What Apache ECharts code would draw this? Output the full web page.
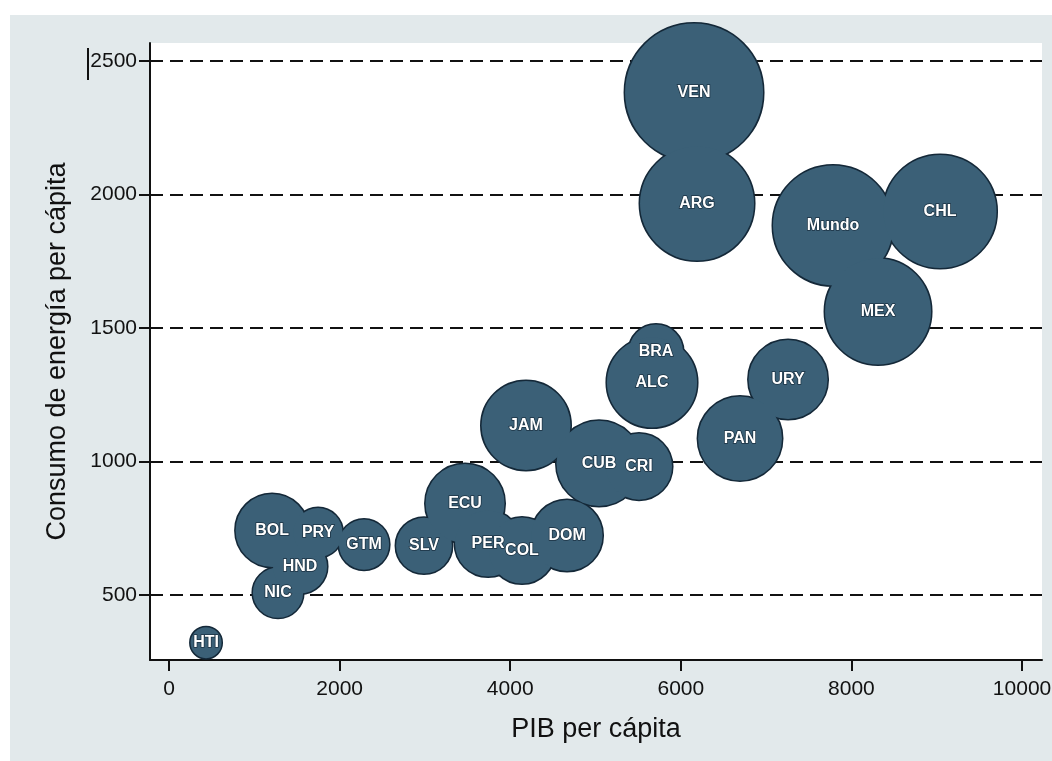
<!DOCTYPE html>
<html>
<head>
<meta charset="utf-8">
<script src="https://cdn.jsdelivr.net/npm/echarts@6/dist/echarts.min.js"></script>
<style>
html,body{margin:0;padding:0;background:#ffffff;}
#chart{width:1052px;height:761px;}
</style>
</head>
<body>
<div id="chart"></div>
<script>
const paises = ['VEN','ARG','Mundo','CHL','MEX','BRA','ALC','JAM','CUB','CRI','URY','PAN','HTI','NIC','HND','BOL','PRY','GTM','SLV','ECU','PER','COL','DOM'];
const pibPerCapita = [6155,6190,7784,9039,8312,5709,5662,4185,5041,5510,7257,6694,434,1278,1536,1208,1747,2286,2989,3470,3740,4138,4666];
const consumoEnergia = [2382,1966,1884,1936,1562,1412,1296,1135,993,981,1307,1086,322,509,607,742,734,689,685,843,693,667,723];
const peso = [47.6,32.5,36.0,31.9,28.1,7.3,20.3,19.8,18.1,10.9,15.6,17.6,2.4,6.3,7.3,13.3,6.0,6.3,7.8,15.6,10.9,10.9,12.6];
const xTicks = [0,2000,4000,6000,8000,10000];
const yTicks = [500,1000,1500,2000,2500];

const puntos = paises.map((p,i)=>[pibPerCapita[i], consumoEnergia[i], peso[i], p]);
const tamano = v => 20*Math.sqrt(v[2]);
const font = "'Liberation Sans', Arial, Helvetica, sans-serif";
const bubbleColor = '#3b6077';
const edgeColor = '#142838';

const chart = echarts.init(document.getElementById('chart'));
chart.setOption({
  animation:false,
  backgroundColor:'transparent',
  graphic:[
    {type:'rect', z:-100, shape:{x:10,y:15,width:1042,height:746}, style:{fill:'#e2e9eb'}, silent:true},
    {type:'line', z:10, shape:{x1:88,y1:48,x2:88,y2:80}, style:{stroke:'#111',lineWidth:2}, silent:true}
  ],
  grid:{left:150, top:43, right:10, bottom:101, show:true, backgroundColor:'#ffffff', borderWidth:0, outerBoundsMode:'none', containLabel:false},
  xAxis:{
    type:'value', min:-223, max:10234,
    name:'PIB per cápita', nameLocation:'middle', nameGap:56,
    nameTextStyle:{fontFamily:font, fontSize:27, color:'#111'},
    axisLine:{show:true, onZero:false, lineStyle:{color:'#111', width:2}},
    axisTick:{show:true, length:11, lineStyle:{color:'#111', width:2}, customValues:xTicks},
    axisLabel:{customValues:xTicks, formatter:v=>String(v), fontFamily:font, fontSize:21, color:'#111', margin:19},
    splitLine:{show:false}
  },
  yAxis:{
    type:'value', min:257, max:2567,
    name:'Consumo de energía per cápita', nameLocation:'middle', nameGap:79,
    nameTextStyle:{fontFamily:font, fontSize:27, color:'#111'},
    axisLine:{show:true, onZero:false, lineStyle:{color:'#111', width:2}},
    axisTick:{show:true, length:11, lineStyle:{color:'#111', width:2}, customValues:yTicks},
    axisLabel:{customValues:yTicks, formatter:v=>String(v), fontFamily:font, fontSize:21, color:'#111', margin:13},
    splitLine:{show:true, lineStyle:{color:'#111', width:2, type:[13,7]}}
  },
  series:[
    {
      type:'scatter', z:2, clip:false, silent:true,
      data:puntos, symbol:'circle', symbolSize:tamano,
      itemStyle:{color:edgeColor, borderColor:edgeColor, borderWidth:3, opacity:1}
    },
    {
      type:'scatter', z:3, clip:false, silent:true,
      data:puntos, symbol:'circle', symbolSize:tamano,
      itemStyle:{color:bubbleColor, opacity:1},
      label:{show:true, position:'inside', formatter:p=>p.data[3],
        fontFamily:font, fontSize:16, fontWeight:'bold', color:'#ffffff',
        textBorderColor:'#1a3040', textBorderWidth:1.5}
    }
  ]
});
</script>
</body>
</html>
